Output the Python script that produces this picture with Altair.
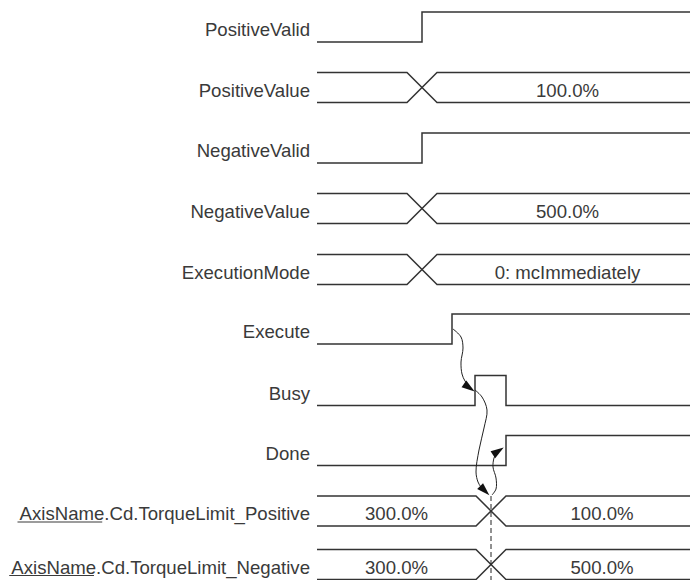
import altair as alt
import pandas as pd

# ---------------- data ----------------
labels = ["PositiveValid", "PositiveValue", "NegativeValid", "NegativeValue",
          "ExecutionMode", "Execute", "Busy", "Done",
          "AxisName.Cd.TorqueLimit_Positive", "AxisName.Cd.TorqueLimit_Negative"]
kinds = ["bit", "bus", "bit", "bus", "bus", "bit", "bit", "bit", "bus", "bus"]
# vertical centre of each row
row_centers = [27, 87.5, 148, 208.5, 269.5, 329, 390.5, 450.5, 511, 564.5]
# bit signals: times at which the level toggles (starting low)
bit_edges = {
    "PositiveValid": [422],
    "NegativeValid": [422],
    "Execute": [452],
    "Busy": [475, 506],
    "Done": [506],
}
# bus signals: crossing times and the values shown in each segment
bus_cross = {
    "PositiveValue": [422],
    "NegativeValue": [422],
    "ExecutionMode": [422],
    "AxisName.Cd.TorqueLimit_Positive": [491],
    "AxisName.Cd.TorqueLimit_Negative": [491],
}
bus_values = {
    "PositiveValue": ["", "100.0%"],
    "NegativeValue": ["", "500.0%"],
    "ExecutionMode": ["", "0: mcImmediately"],
    "AxisName.Cd.TorqueLimit_Positive": ["300.0%", "100.0%"],
    "AxisName.Cd.TorqueLimit_Negative": ["300.0%", "500.0%"],
}
underlined_prefix = "AxisName"
t_start, t_end = 317, 698
cross_half = 15
half_amp = 15

# causal arrows (time, vertical position)
arrows = {
    "a1": [(453, 329), (461, 337), (463, 348), (461, 362), (462, 374), (465, 381), (469, 386)],
    "a2": [(475, 390), (482, 397), (487, 410), (484, 428), (479, 450), (476, 472), (478, 482), (481, 487), (484, 490)],
    "a3": [(492, 495), (496, 489), (496, 478), (493, 467), (494, 458), (496, 454), (498, 452)],
}
arrow_heads_x = [469.0, 484.5, 498.0]
arrow_heads_y = [387.5, 490.5, 451.3]
arrow_heads_ang = [125, 135, 56]
marker_time = 491
ARROW_SHAPE = "M0,-1L0.6,0.9L-0.6,0.9Z"

FONT_SIZE = 18.6
LABEL_X = 310
# Arial / Liberation Sans advance widths (per 1000 em) used to place the underline
ADV = {"A": 667, "x": 500, "i": 222, "s": 500, "N": 722, "a": 556, "m": 833, "e": 556,
       ".": 278, "C": 722, "d": 556, "T": 611, "o": 556, "r": 333, "q": 556, "u": 556,
       "L": 556, "t": 278, "_": 556, "g": 556, "v": 500, "P": 667}


def text_w(s):
    return sum(ADV.get(ch, 556) for ch in s) * FONT_SIZE / 1000.0


# ---------------- build tables ----------------
line_rows, val_rows, lab_rows, ul_rows = [], [], [], []
for i, (lab, kind) in enumerate(zip(labels, kinds)):
    c = row_centers[i]
    hi, lo = c - half_amp, c + half_amp
    lab_rows.append({"x": LABEL_X, "y": c + 9, "t": lab})
    if lab.startswith(underlined_prefix):
        a = LABEL_X - text_w(lab)
        ul_rows.append({"x": a, "x2": a + text_w(underlined_prefix), "y": c + 11})
    if kind == "bit":
        cur = lo
        pts = [(t_start, cur)]
        for t in bit_edges[lab]:
            nxt = hi if cur == lo else lo
            pts += [(t, cur), (t, nxt)]
            cur = nxt
        pts.append((t_end, cur))
        for k, (x, y) in enumerate(pts):
            line_rows.append({"seg": lab, "x": x, "y": y, "o": k})
    else:
        for start, name in ((hi, "A"), (lo, "B")):
            cur = start
            pts = [(t_start, cur)]
            for t in bus_cross[lab]:
                nxt = hi if cur == lo else lo
                pts += [(t - cross_half, cur), (t + cross_half, nxt)]
                cur = nxt
            pts.append((t_end, cur))
            for k, (x, y) in enumerate(pts):
                line_rows.append({"seg": lab + name, "x": x, "y": y, "o": k})
        bounds = [t_start] + sum([[t - cross_half, t + cross_half] for t in bus_cross[lab]], []) + [t_end]
        for j, v in enumerate(bus_values[lab]):
            if v:
                val_rows.append({"x": (bounds[2 * j] + bounds[2 * j + 1]) / 2, "y": c + 9, "t": v})

arrow_rows = []
for name, pts in arrows.items():
    for k, (x, y) in enumerate(pts):
        arrow_rows.append({"a": name, "x": x, "y": y, "o": k})

lines_df = pd.DataFrame(line_rows)
vals_df = pd.DataFrame(val_rows)
labs_df = pd.DataFrame(lab_rows)
ul_df = pd.DataFrame(ul_rows)
arr_df = pd.DataFrame(arrow_rows)
head_df = pd.DataFrame({"x": arrow_heads_x, "y": arrow_heads_y, "ang": arrow_heads_ang})
dash_df = pd.DataFrame({"x": [marker_time], "y": [row_centers[8] - half_amp], "y2": [580]})

# ---------------- chart ----------------
# the svg covers page pixels 8..690 x 8..580 (the page width leaves no more room)
xs = alt.Scale(domain=[8, 690], nice=False, zero=False)
ys = alt.Scale(domain=[8, 580], nice=False, zero=False, reverse=True)
X = lambda f="x": alt.X(f"{f}:Q", scale=xs, axis=None)
Y = lambda f="y": alt.Y(f"{f}:Q", scale=ys, axis=None)
INK = "#333333"
TXT = "#3a3a3a"

signals = alt.Chart(lines_df).mark_line(color=INK, strokeWidth=1.5).encode(
    x=X(), y=Y(), detail="seg:N", order="o:Q")
curves = alt.Chart(arr_df).mark_line(color="#222222", strokeWidth=1, interpolate="catmull-rom").encode(
    x=X(), y=Y(), detail="a:N", order="o:Q")
heads = alt.Chart(head_df).mark_point(shape=ARROW_SHAPE, filled=True, color="#111111",
                                      size=190, opacity=1).encode(
    x=X(), y=Y(), angle=alt.Angle("ang:Q", scale=None))
dash = alt.Chart(dash_df).mark_rule(color="#222222", strokeWidth=1, strokeDash=[5, 3]).encode(
    x=X(), y=Y(), y2="y2:Q")
labels_l = alt.Chart(labs_df).mark_text(align="right", baseline="alphabetic", font="Liberation Sans",
                                        fontSize=FONT_SIZE, color=TXT).encode(x=X(), y=Y(), text="t:N")
values_l = alt.Chart(vals_df).mark_text(align="center", baseline="alphabetic", font="Liberation Sans",
                                        fontSize=FONT_SIZE, color=TXT).encode(x=X(), y=Y(), text="t:N")
underline = alt.Chart(ul_df).mark_rule(color=TXT, strokeWidth=1.2).encode(
    x=X(), x2="x2:Q", y=Y())

chart = alt.layer(signals, dash, curves, heads, labels_l, values_l, underline).properties(
    width=682, height=572, autosize=alt.AutoSizeParams(type="none"), padding=0
).configure_view(stroke=None)

chart.save("out.html", embed_options={"renderer": "svg", "actions": False})
